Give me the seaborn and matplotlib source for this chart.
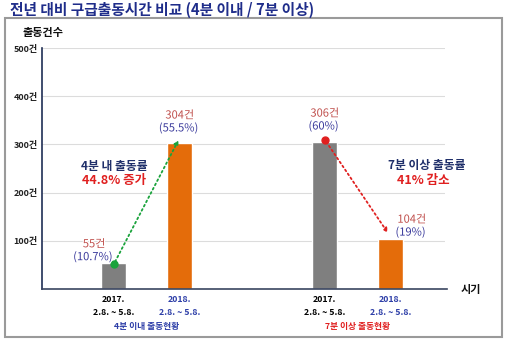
import matplotlib
matplotlib.use("Agg")
import matplotlib.pyplot as plt
import matplotlib.patheffects as pe
from matplotlib.patches import Rectangle
import seaborn as sns
import pandas as pd

# ---- data ----
periods = ["2017.\n2.8. ~ 5.8.", "2018.\n2.8. ~ 5.8.", "2017.\n2.8. ~ 5.8.", "2018.\n2.8. ~ 5.8."]
positions = [0.0, 1.0, 3.2, 4.2]
counts = [55, 304, 306, 104]
percents = ["(10.7%)", "(55.5%)", "(60%)", "(19%)"]
groups = ["4분 이내 출동현황", "7분 이상 출동현황"]
y_ticks = [100, 200, 300, 400, 500]
y_tick_labels = ["100건", "200건", "300건", "400건", "500건"]
bar_colors = ["#7f7f7f", "#e46c0a", "#7f7f7f", "#e46c0a"]
tick_colors = ["#000000", "#2e3fa8", "#000000", "#2e3fa8"]

df = pd.DataFrame({"pos": positions, "count": counts, "idx": range(4)})

sns.set_theme(style="white")
plt.rcParams["font.family"] = ["Noto Sans CJK KR", "DejaVu Sans"]

fig = plt.figure(figsize=(5.06, 3.43), dpi=100)
ax = fig.add_axes([0.083, 0.157, 0.796, 0.703])

sns.barplot(data=df, x="pos", y="count", hue="idx", palette=bar_colors,
            native_scale=True, width=0.38, legend=False, ax=ax, saturation=1)

ax.set_xlim(-1.09, 5.02)
ax.set_ylim(0, 500)
ax.set_yticks(y_ticks)
ax.set_yticklabels(y_tick_labels, fontsize=6.5, fontweight="bold", color="#222222")
ax.yaxis.grid(True, color="#dcdcdc", linewidth=0.8)
ax.set_axisbelow(True)
ax.set_xticks([])
ax.set_xlabel("")
ax.set_ylabel("")
ax.tick_params(axis="y", length=0, pad=3)
for s in ["top", "right"]:
    ax.spines[s].set_visible(False)
ax.spines["left"].set_color("#1f2f55")
ax.spines["left"].set_linewidth(1.2)
ax.spines["bottom"].set_color("#3a4560")
ax.spines["bottom"].set_linewidth(1.2)
ax.spines["bottom"].set_bounds(-1.09, 5.06)

trans = ax.get_xaxis_transform()
for p, lab, c in zip(positions, periods, tick_colors):
    ax.text(p, -0.025, lab, transform=trans, ha="center", va="top",
            fontsize=6.3, fontweight="bold", color=c, linespacing=1.5)
ax.text((positions[0] + positions[1]) / 2, -0.135, groups[0], transform=trans,
        ha="center", va="top", fontsize=6.3, fontweight="bold", color="#2e3fa8")
ax.text((positions[2] + positions[3]) / 2, -0.135, groups[1], transform=trans,
        ha="center", va="top", fontsize=6.3, fontweight="bold", color="#e02020")

# value labels
stroke = [pe.withStroke(linewidth=1.6, foreground="#ffffff")]
cnt_offsets = [(-0.3, 12), (0, 30), (0, 32), (0.32, 14)]
for p, c, pc, (dx, dy) in zip(positions, counts, percents, cnt_offsets):
    ax.text(p + dx, c + dy + 26, f"{c}건", ha="center", va="center",
            fontsize=8, color="#c0504d", path_effects=stroke)
    ax.text(p + dx - 0.02, c + dy, pc, ha="center", va="center",
            fontsize=8, color="#3b3b9c", path_effects=stroke)

# arrows
ax.annotate("", xy=(positions[1], counts[1] + 10), xytext=(positions[0], counts[0] - 3),
            arrowprops=dict(arrowstyle="-|>", linestyle=":", color="#1aa33c",
                            lw=1.3, mutation_scale=6))
ax.plot(positions[0], counts[0] - 3, "o", color="#1aa33c", ms=5)
ax.annotate("", xy=(positions[3] - 0.02, counts[3] + 8), xytext=(positions[2], counts[2] + 4),
            arrowprops=dict(arrowstyle="-|>", linestyle=":", color="#e02020",
                            lw=1.3, mutation_scale=6))
ax.plot(positions[2], counts[2] + 4, "o", color="#e02020", ms=5)

ax.text(0.0, 254, "4분 내 출동률", ha="center", va="center", fontsize=8.5,
        fontweight="bold", style="italic", color="#1f2f6a")
ax.text(0.0, 225, "44.8% 증가", ha="center", va="center", fontsize=9,
        fontweight="bold", style="italic", color="#e02020")
ax.text(4.75, 256, "7분 이상 출동률", ha="center", va="center", fontsize=8.5,
        fontweight="bold", style="italic", color="#1f2f6a")
ax.text(4.7, 226, "41% 감소", ha="center", va="center", fontsize=9,
        fontweight="bold", style="italic", color="#e02020")

# figure-level texts and frame
fig.text(0.02, 0.972, "전년 대비 구급출동시간 비교 (4분 이내 / 7분 이상)", ha="left", va="center",
         fontsize=10.6, fontweight="bold", color="#1f2d8a")
fig.text(0.045, 0.905, "출동건수", ha="left", va="center", fontsize=8,
         fontweight="bold", color="#111111")
fig.text(0.93, 0.155, "시기", ha="center", va="center", fontsize=8,
         fontweight="bold", color="#111111")
fig.patches.append(Rectangle((0.010, 0.018), 0.982, 0.930, transform=fig.transFigure,
                             fill=False, edgecolor="#9a9a9a", linewidth=1.5))

fig.savefig("out.png", dpi=100)
